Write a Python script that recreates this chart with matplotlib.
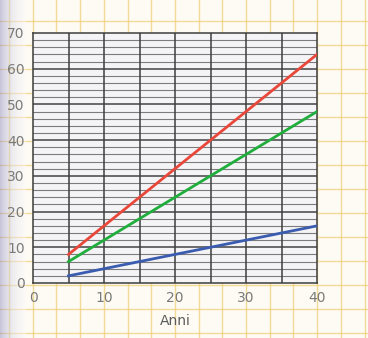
import matplotlib
matplotlib.use("Agg")
import matplotlib.pyplot as plt
import numpy as np

# Data
years = [5, 40]
red_values = [8, 64]
green_values = [6, 48]
blue_values = [2, 16]
x_ticks = [0, 10, 20, 30, 40]
y_ticks = [0, 10, 20, 30, 40, 50, 60, 70]

W, H = 368, 338
fig = plt.figure(figsize=(W / 100, H / 100), dpi=100)
fig.patch.set_facecolor("#fdfbf3")

# background graph paper
bg = fig.add_axes([0, 0, 1, 1])
bg.set_xlim(0, W)
bg.set_ylim(H, 0)
bg.axis("off")
for xv in np.arange(9, W, 23.7):
    bg.axvline(xv, color="#f1cf78", lw=1.0, alpha=0.75)
for yv in np.arange(21, H, 24):
    bg.axhline(yv, color="#f1cf78", lw=1.0, alpha=0.75)
# left shadow from scan
grad = np.linspace(0, 1, 64)[None, :] ** 0.7
bg.imshow(grad, extent=[0, 26, H, 0], cmap="Purples_r", vmin=-0.6, vmax=1.0,
          aspect="auto", alpha=0.45, zorder=3)

ax = fig.add_axes([33 / W, (H - 283) / H, 284 / W, 250 / H])
ax.set_facecolor("#f4f3f5")
ax.set_xlim(0, 40)
ax.set_ylim(0, 70)

for yv in np.arange(2, 70, 2):
    major = yv % 10 == 0
    ax.axhline(yv, color="#444444" if major else "#7c7c7c",
               lw=1.1 if major else 0.8, zorder=1)
for xv in np.arange(5, 40, 5):
    ax.axvline(xv, color="#3e3e3e", lw=1.1, zorder=1)

ax.plot(years, red_values, color="#e8473a", lw=2.0, zorder=3)
ax.plot(years, green_values, color="#1fae3c", lw=2.0, zorder=3)
ax.plot(years, blue_values, color="#3a5cb0", lw=2.0, zorder=3)

ax.set_xticks(x_ticks)
ax.set_yticks(y_ticks)
ax.tick_params(length=0, labelsize=10, labelcolor="#7a7a7a", pad=6)
for s in ax.spines.values():
    s.set_color("#3e3e3e")
    s.set_linewidth(1.1)
ax.set_xlabel("Anni", fontsize=10, color="#5a5a5a", labelpad=6)

fig.savefig("out.png", dpi=100, facecolor=fig.get_facecolor())
